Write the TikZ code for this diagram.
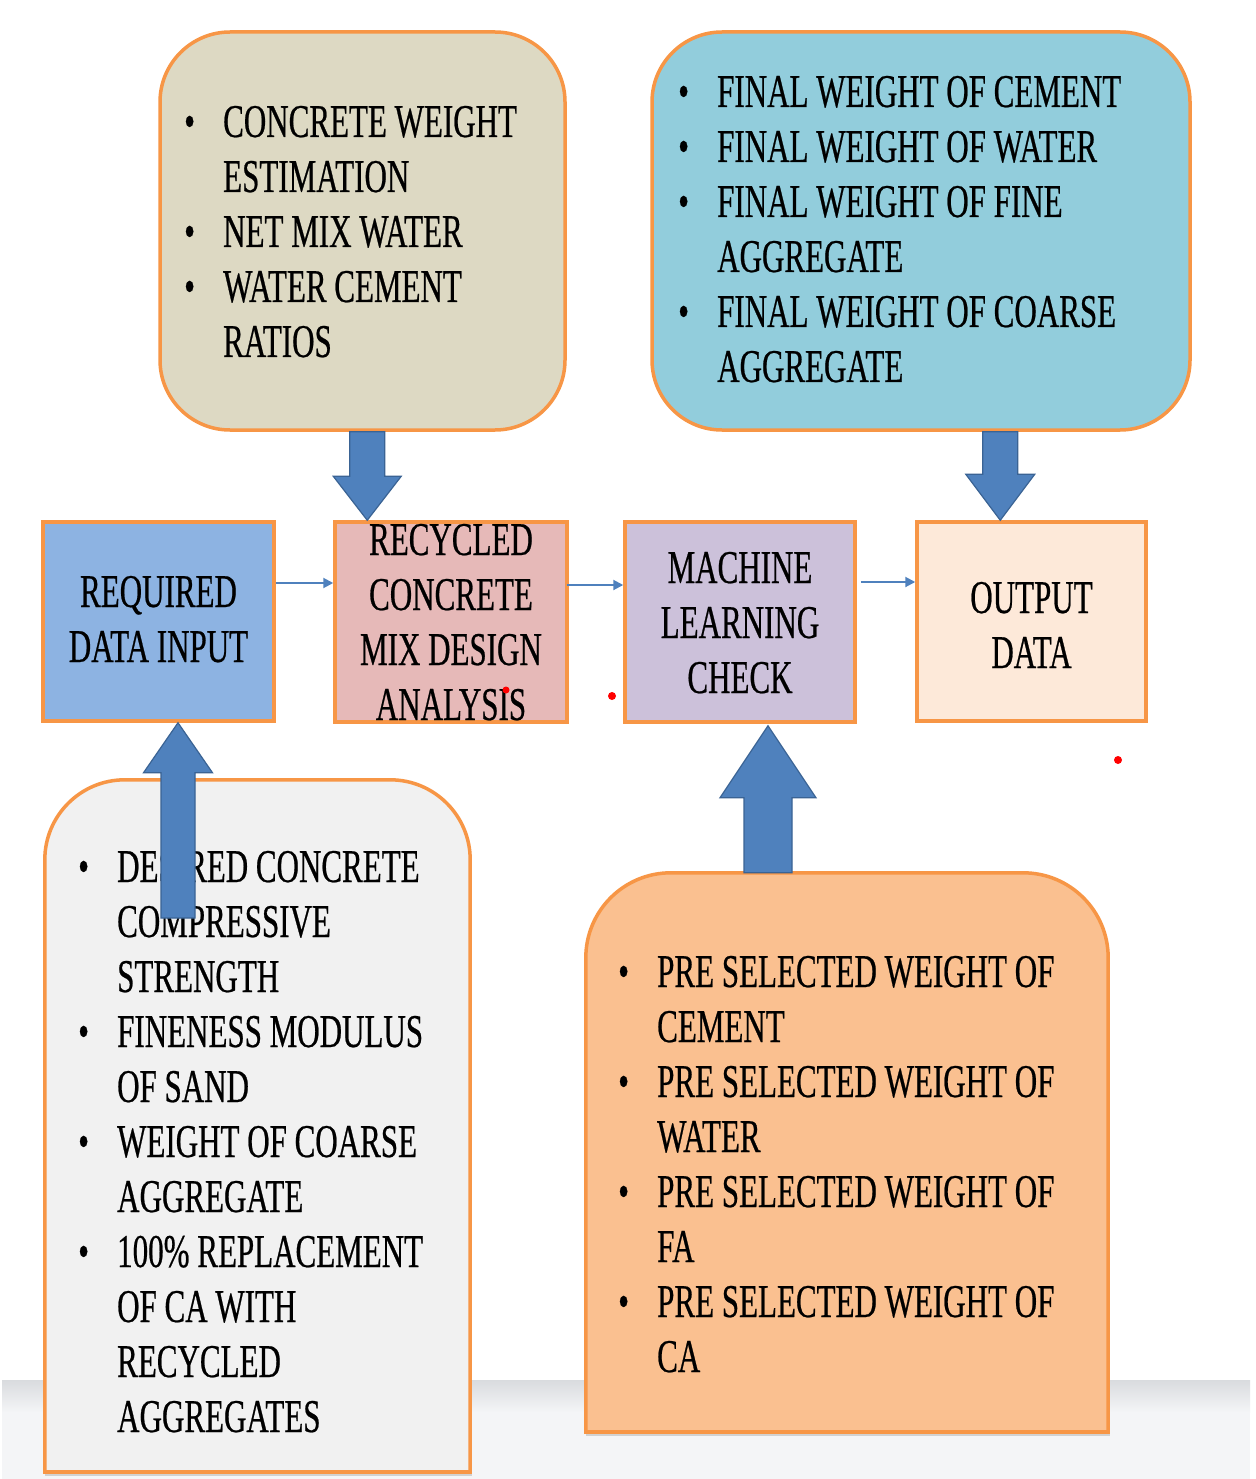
\documentclass[tikz,border=0pt]{standalone}
\usepackage{fontspec}
\setmainfont{Liberation Serif}[FakeStretch=0.66,FakeBold=0.5]
\usetikzlibrary{arrows.meta,calc}
\definecolor{bord}{HTML}{F79646}
\definecolor{tanfill}{HTML}{DDD9C3}
\definecolor{bluefill}{HTML}{92CDDC}
\definecolor{reqfill}{HTML}{8DB3E2}
\definecolor{recfill}{HTML}{E6B9B8}
\definecolor{mlfill}{HTML}{CCC1DA}
\definecolor{outfill}{HTML}{FDE9D9}
\definecolor{greyfill}{HTML}{F1F1F1}
\definecolor{orfill}{HTML}{FAC090}
\definecolor{arrfill}{HTML}{4F81BD}
\definecolor{arrdraw}{HTML}{3A6394}
\definecolor{bandtop}{HTML}{D9DBDE}
\definecolor{bandbot}{HTML}{F4F5F7}
\newcommand\blist[1]{\begin{tabular}[t]{@{}p{39pt}@{}l@{}}#1\end{tabular}}
\newcommand\clist[1]{\begin{tabular}[t]{@{}c@{}}#1\end{tabular}}
\newcommand\blockarr[5]{\draw[blk] let \p1=#1, \p2=#2, \n1={sign(\y2-\y1)} in
  ({\x2-#3pt},\y1) -- ({\x2-#3pt},{\y2-(\n1)*#5pt}) -- ({\x2-#4pt},{\y2-(\n1)*#5pt}) -- (\x2,\y2)
  -- ({\x2+#4pt},{\y2-(\n1)*#5pt}) -- ({\x2+#3pt},{\y2-(\n1)*#5pt}) -- ({\x2+#3pt},\y1) -- cycle;}
\begin{document}
\begin{tikzpicture}[x=1pt,y=-1pt,
  txt/.style={font=\fontsize{47}{55}\selectfont, inner sep=0pt, text=black},
  box/.style={draw=bord, line width=3.5pt, inner sep=0pt},
  shapeonly/.style={inner sep=0pt},
  flowarrow/.style={draw=arrfill, line width=2pt, -{Triangle[length=10pt,width=10pt]}},
  blk/.style={fill=arrfill, draw=arrdraw, line width=1.2pt, line join=miter},
  edge/.style={draw=bord, line width=3.5pt}]
\fill[white] (0,0) rectangle (1255,1479);
\useasboundingbox (0,0) rectangle (1255,1479);
% bottom band
\fill[bandbot] (2,1380) rectangle (1250,1479);
\shade[top color=bandtop, bottom color=bandbot] (2,1380) rectangle (1250,1412);

% top boxes
\node[box, fill=tanfill, rounded corners=70pt, minimum width=405pt, minimum height=398pt] (est) at (362.5,231) {};
\node[box, fill=bluefill, rounded corners=70pt, minimum width=538pt, minimum height=398pt] (res) at (921,231) {};

% middle row
\node[box, fill=reqfill, minimum width=231pt, minimum height=199pt] (req) at (158.5,621.5) {};
\node[box, fill=recfill, minimum width=232pt, minimum height=200pt] (rec) at (451,622) {};
\node[box, fill=mlfill, minimum width=230pt, minimum height=200pt] (ml) at (740,622) {};
\node[box, fill=outfill, minimum width=229pt, minimum height=199pt] (out) at (1031.5,621.5) {};

% bottom boxes (rounded top corners only)
\node[shapeonly, minimum width=425pt, minimum height=692pt] (inp) at (257.5,1126) {};
\fill[black!18] ([yshift=-4pt]inp.south west) rectangle ([xshift=2pt]inp.south east);
\fill[greyfill, rounded corners=80pt] (inp.south west) -- (inp.north west) -- (inp.north east) -- (inp.south east) -- cycle;
\fill[greyfill] (inp.west) rectangle (inp.south east);
\draw[edge, rounded corners=80pt] (inp.south west) -- (inp.north west) -- (inp.north east) -- (inp.south east);
\draw[edge, line cap=rect] (inp.south west) -- (inp.south east);

\node[shapeonly, minimum width=522pt, minimum height=559pt] (pre) at (847,1152.5) {};
\fill[black!18] ([yshift=-4pt]pre.south west) rectangle ([xshift=2pt]pre.south east);
\fill[orfill, rounded corners=85pt] (pre.south west) -- (pre.north west) -- (pre.north east) -- (pre.south east) -- cycle;
\fill[orfill] (pre.west) rectangle (pre.south east);
\draw[edge, rounded corners=85pt] (pre.south west) -- (pre.north west) -- (pre.north east) -- (pre.south east);
\draw[edge, line cap=rect] (pre.south west) -- (pre.south east);

% texts
\node[txt, anchor=base west] (estT) at (184,137)
  {\blist{• & CONCRETE WEIGHT\\ & ESTIMATION\\ • & NET MIX WATER\\ • & WATER CEMENT\\ & RATIOS}};
\node[txt, anchor=base west] (resT) at (678,107)
  {\blist{• & FINAL WEIGHT OF CEMENT\\ • & FINAL WEIGHT OF WATER\\ • & FINAL WEIGHT OF FINE\\ & AGGREGATE\\ • & FINAL WEIGHT OF COARSE\\ & AGGREGATE}};
\node[txt, anchor=base] (reqT) at (158.5,607) {\clist{REQUIRED\\DATA INPUT}};
\node[txt, anchor=base] (recT) at (451,555) {\clist{RECYCLED\\CONCRETE\\MIX DESIGN\\ANALYSIS}};
\node[txt, anchor=base] (mlT) at (740,583) {\clist{MACHINE\\LEARNING\\CHECK}};
\node[txt, anchor=base] (outT) at (1031.5,613) {\clist{OUTPUT\\DATA}};
\node[txt, anchor=base west] (inpT) at (78,882)
  {\blist{• & DESIRED CONCRETE\\ & COMPRESSIVE\\ & STRENGTH\\ • & FINENESS MODULUS\\ & OF SAND\\ • & WEIGHT OF COARSE\\ & AGGREGATE\\ • & 100\% REPLACEMENT\\ & OF CA WITH\\ & RECYCLED\\ & AGGREGATES}};
\node[txt, anchor=base west] (preT) at (618,987)
  {\blist{• & PRE SELECTED WEIGHT OF\\ & CEMENT\\ • & PRE SELECTED WEIGHT OF\\ & WATER\\ • & PRE SELECTED WEIGHT OF\\ & FA\\ • & PRE SELECTED WEIGHT OF\\ & CA}};

% red dots
\fill[red] (506,690) circle (3.5pt);
\fill[red] (612,696) circle (4pt);
\fill[red] (1118,760) circle (4pt);

% thin flow arrows
\draw[flowarrow] ([yshift=38.5pt]req.east) -- ([yshift=38.5pt]req.east -| rec.west);
\draw[flowarrow] ([yshift=37pt,xshift=-2pt]rec.east) -- ([yshift=37pt]rec.east -| ml.west);
\draw[flowarrow] ([yshift=40pt,xshift=4pt]ml.east) -- ([yshift=40pt]ml.east -| out.west);

% block arrows
\coordinate (a1) at ([xshift=34pt]rec.north west);
\blockarr{(est.south -| a1)}{(a1)}{17.5}{34}{44}
\coordinate (a2) at ([xshift=85pt]out.north west);
\blockarr{(res.south -| a2)}{(a2)}{17.5}{34.5}{46}
\coordinate (a3) at ([xshift=19.5pt]req.south);
\coordinate (a3t) at (178,918);
\blockarr{(a3t)}{(a3)}{17}{34.5}{50}
\coordinate (a4) at ([xshift=28pt,yshift=-2pt]ml.south);
\blockarr{(pre.north -| a4)}{(a4)}{24}{48}{72}
\end{tikzpicture}
\end{document}
